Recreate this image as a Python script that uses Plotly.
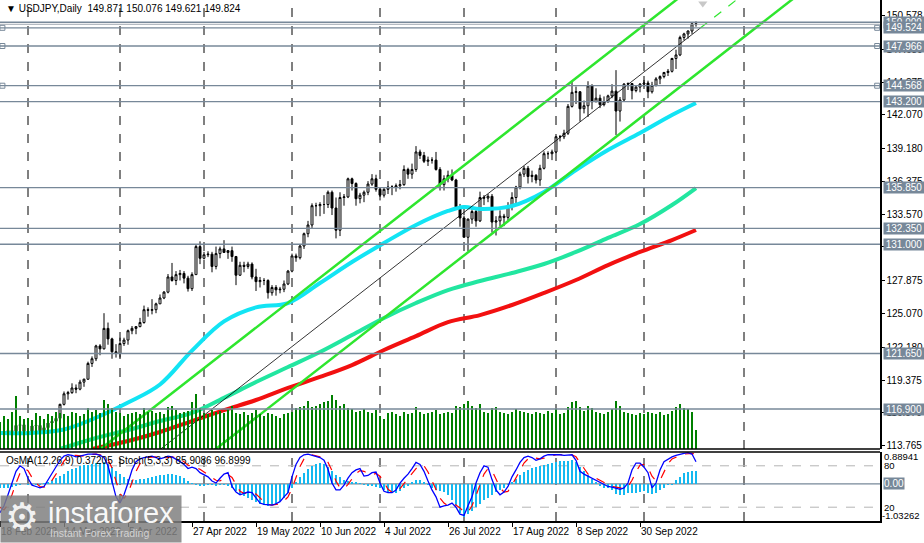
import plotly.graph_objects as go

FONT = "Liberation Sans, Arial, sans-serif"

# ---------------- DATA ----------------
# bar index 0 = 18 Feb 2022 ... 174 = 20 Oct 2022 (daily bars, weekdays)
opens = [114.93,114.99,114.75,115.05,114.98,115.50,115.55,114.98,114.88,115.45,115.50,114.82,115.30,115.70,115.85,116.10,
         117.30,118.20,118.30,118.70,118.60,119.20,119.45,120.80,121.20,122.30,122.05,123.80,122.90,121.80,121.65,122.50,
         122.80,123.60,123.80,123.95,124.30,125.40,125.35,125.40,125.90,126.40,126.90,128.20,127.90,128.40,128.50,128.10,
         127.20,128.40,130.80,129.80,130.10,130.15,129.10,130.20,130.60,130.30,130.45,129.95,128.35,129.20,129.10,129.30,
         128.20,127.80,127.90,127.90,126.85,127.30,127.10,127.15,127.60,128.70,130.00,129.85,130.85,131.90,132.65,134.30,
         134.30,134.40,134.40,135.45,134.10,132.20,135.00,135.05,136.60,136.20,134.90,135.20,135.45,136.15,136.60,135.70,
         135.20,135.70,135.90,135.90,136.00,136.10,137.40,137.00,137.40,138.90,138.60,138.10,138.20,138.20,137.40,136.10,
         136.60,136.90,136.50,134.20,133.25,131.60,133.15,133.80,133.00,135.00,134.95,135.10,132.90,133.00,133.40,133.30,
         134.20,135.00,135.90,137.00,137.50,136.80,136.90,136.50,137.50,138.75,138.75,138.90,140.20,140.20,140.50,142.80,
         144.00,144.05,142.60,142.85,144.55,143.20,143.50,142.95,143.20,143.70,144.10,142.40,143.35,144.70,144.75,144.15,
         144.45,144.70,144.80,144.05,144.60,145.15,145.35,145.70,145.80,146.90,147.20,148.70,149.00,149.25,149.871]
highs = [115.20,115.10,115.25,115.25,115.70,115.75,115.60,115.20,115.55,115.80,115.50,115.40,115.80,116.20,116.30,117.35,
         118.40,118.45,119.10,119.00,119.40,119.50,120.95,121.40,122.40,122.45,125.10,124.30,123.00,122.45,123.00,123.00,
         123.70,124.00,124.00,124.70,125.75,125.60,126.30,126.00,126.70,127.00,128.45,129.40,128.70,128.80,128.70,128.30,
         128.60,130.95,131.25,130.35,130.40,130.35,130.80,130.80,131.35,130.50,130.80,130.00,129.50,129.50,129.50,129.45,
         128.90,128.20,128.10,128.00,127.50,127.50,127.35,127.90,128.80,130.20,130.20,130.95,132.00,133.00,134.50,134.55,
         134.60,135.20,135.60,135.60,135.00,135.45,135.30,136.70,136.70,136.30,135.40,135.60,136.40,137.00,136.95,135.80,
         135.80,136.40,136.05,136.20,136.50,137.75,137.55,137.90,139.40,139.10,138.90,138.50,138.45,138.90,137.60,136.90,
         137.30,137.40,136.60,134.45,133.45,133.20,134.00,134.00,135.50,135.20,135.30,135.30,133.40,133.90,133.60,134.60,
         135.45,136.00,137.20,137.70,137.70,137.30,137.00,137.80,138.95,138.95,139.10,140.25,140.35,140.80,143.00,144.99,
         144.50,144.10,143.30,144.95,144.70,144.35,143.80,143.65,143.80,144.70,145.90,143.60,144.80,144.85,144.80,144.60,
         144.80,145.40,145.00,144.90,145.30,145.45,145.75,146.00,146.95,147.65,148.85,149.10,149.30,149.95,150.076]
lows = [114.75,114.70,114.55,114.90,114.40,115.30,114.95,114.70,114.80,115.30,114.85,114.65,115.10,115.65,115.75,116.00,
        117.20,117.70,118.20,118.25,118.50,118.80,119.40,120.50,121.00,121.50,122.00,122.40,121.20,121.30,121.30,122.30,
        122.40,123.30,123.30,123.90,124.20,124.80,125.00,125.10,125.90,126.30,126.80,127.80,127.50,127.90,127.65,126.95,
        127.00,128.40,129.30,129.70,129.90,128.60,128.85,129.80,130.30,129.75,129.50,127.50,128.30,128.60,128.90,128.00,
        127.00,127.30,127.50,126.35,126.60,126.60,126.80,126.90,127.50,128.60,129.50,129.70,130.60,131.60,132.40,133.40,
        133.40,133.60,134.10,133.50,131.50,131.70,134.30,134.95,135.60,134.30,134.50,134.60,135.20,136.00,135.50,134.75,
        135.00,135.30,135.20,135.50,135.70,136.00,136.60,136.60,137.20,138.30,137.95,137.70,137.90,137.30,135.60,135.60,
        136.30,136.40,133.95,132.50,131.60,130.40,132.75,132.50,132.90,134.35,134.60,132.00,131.75,132.55,132.55,133.05,
        133.90,134.50,135.70,136.75,136.20,136.30,136.20,136.00,137.40,138.30,138.20,138.80,139.80,140.00,140.35,142.70,
        143.00,141.50,142.20,141.90,142.55,143.15,142.65,142.80,143.10,143.50,140.35,141.50,143.20,144.20,143.40,144.00,
        144.00,144.50,143.50,143.90,144.50,144.70,145.20,145.40,145.70,146.00,147.10,148.45,148.60,149.00,149.621]
closes = [114.99,114.75,115.05,114.98,115.50,115.55,114.98,114.88,115.45,115.50,114.82,115.30,115.70,115.85,116.10,117.30,
          118.20,118.30,118.70,118.60,119.20,119.45,120.80,121.20,122.30,122.05,123.80,122.90,121.80,121.65,122.50,122.80,
          123.60,123.80,123.95,124.30,125.40,125.35,125.40,125.90,126.40,126.90,128.20,127.90,128.40,128.50,128.10,127.20,
          128.40,130.80,129.80,130.10,130.15,129.10,130.20,130.60,130.30,130.45,129.95,128.35,129.20,129.10,129.30,128.20,
          127.80,127.90,127.90,126.85,127.30,127.10,127.15,127.60,128.70,130.00,129.85,130.85,131.90,132.65,134.30,134.30,
          134.40,134.40,135.45,134.10,132.20,135.00,135.05,136.60,136.20,134.90,135.20,135.45,136.15,136.60,135.70,135.20,
          135.70,135.90,135.90,136.00,136.10,137.40,137.00,137.40,138.90,138.60,138.10,138.20,138.20,137.40,136.10,136.60,
          136.90,136.50,134.20,133.25,131.60,133.15,133.80,133.00,135.00,134.95,135.10,132.90,133.00,133.40,133.30,134.20,
          135.00,135.90,137.00,137.50,136.80,136.90,136.50,137.50,138.75,138.75,138.90,140.20,140.20,140.50,142.80,144.00,
          144.05,142.60,142.85,144.55,143.20,143.50,142.95,143.20,143.70,144.10,142.40,143.35,144.70,144.75,144.15,144.45,
          144.70,144.80,144.05,144.60,145.15,145.35,145.70,145.80,146.90,147.20,148.70,149.00,149.25,149.87,149.824]
volumes = [45,55,50,62,88,55,50,52,48,60,55,50,58,55,62,60,58,55,62,60,55,58,68,62,65,60,82,75,68,62,60,55,
           58,60,62,58,68,62,64,60,62,58,70,72,65,60,62,64,78,92,68,60,58,65,62,64,60,66,72,60,58,62,56,60,
           65,58,55,60,58,55,52,58,60,62,68,70,72,80,70,72,75,78,80,90,82,72,75,68,66,62,64,66,62,60,65,55,
           50,60,62,58,55,62,58,60,70,62,58,60,62,65,58,60,62,60,72,70,75,80,72,68,75,62,60,68,70,62,60,58,
           62,66,64,62,60,58,62,60,58,64,60,66,58,60,70,78,80,70,64,72,68,62,60,58,62,66,80,72,62,60,58,56,
           60,58,62,60,58,62,56,58,64,70,75,68,66,62,32]

# moving averages (bar index, price)
ma_fast_idx = [0,8,16,24,32,40,48,56,64,72,80,88,96,104,112,116,120,128,136,144,152,160,168,174]
ma_fast = [114.85,114.85,115.15,116.15,117.45,119.00,121.90,124.40,125.60,125.97,127.68,129.48,131.11,132.65,
           133.85,134.19,134.02,134.27,135.47,137.35,139.06,140.52,142.06,143.09]
ma_mid_idx = [15,24,32,40,48,56,64,72,80,88,96,104,112,120,128,136,144,152,160,168,174]
ma_mid = [113.48,114.42,115.10,115.87,116.56,117.85,119.21,120.49,121.78,123.23,124.69,125.97,127.08,127.85,
          128.54,129.31,130.34,131.54,132.73,134.36,135.81]
ma_slow_idx = [23,32,40,48,56,64,72,80,88,96,104,112,120,128,136,144,152,160,168,174]
ma_slow = [113.48,114.16,114.93,115.87,116.80,117.67,118.70,119.64,120.66,121.95,123.14,124.34,124.94,125.80,
           126.83,127.94,129.22,130.34,131.36,132.22]

# price channel anchors (bar index, price)
chan_idx = [0, 220]
chan_upper = [106.77, 165.51]
chan_lower = [99.07, 157.81]
trend_idx = [40, 175]
trend_vals = [113.43, 149.48]
trend_ext_idx = [175, 190]
trend_ext_vals = [149.48, 153.49]

levels = [150.000, 149.524, 147.966, 144.568, 143.200, 135.850, 132.350, 131.000, 121.650, 116.900]
bid_price = 149.824
anchored_levels = [149.524, 147.966, 144.568]

price_ticks = [150.578, 147.680, 144.875, 142.070, 139.180, 136.375, 133.570, 130.765, 127.875,
               125.070, 122.180, 119.375, 116.570, 113.765]
month_start_idx = [7, 30, 51, 73, 95, 116, 139, 161, 186]
date_tick_idx = [0, 16, 32, 48, 64, 80, 96, 112, 128, 144, 160]
date_tick_text = ["18 Feb 2022", "14 Mar 2022", "5 Apr 2022", "27 Apr 2022", "19 May 2022", "10 Jun 2022",
                  "4 Jul 2022", "26 Jul 2022", "17 Aug 2022", "8 Sep 2022", "30 Sep 2022"]

osma = [-0.10,-0.11,-0.10,-0.08,-0.05,-0.02,0.0,-0.02,-0.04,-0.04,-0.03,0.02,0.06,0.10,0.16,0.22,
        0.29,0.35,0.41,0.45,0.49,0.52,0.54,0.56,0.58,0.59,0.60,0.56,0.48,0.37,0.27,0.19,
        0.14,0.12,0.12,0.13,0.15,0.17,0.19,0.21,0.24,0.26,0.27,0.28,0.26,0.22,0.16,0.08,
        0.02,-0.04,-0.06,-0.05,-0.04,-0.04,-0.05,-0.04,-0.03,-0.06,-0.12,-0.20,-0.27,-0.33,-0.38,-0.45,
        -0.50,-0.55,-0.60,-0.61,-0.60,-0.55,-0.47,-0.38,-0.25,-0.10,0.05,0.18,0.30,0.42,0.50,0.56,
        0.59,0.55,0.47,0.36,0.25,0.18,0.12,0.08,0.06,0.05,0.03,-0.02,-0.05,-0.06,-0.08,-0.12,
        -0.18,-0.23,-0.25,-0.24,-0.20,-0.12,-0.05,0.05,0.10,0.10,0.06,-0.02,-0.10,-0.18,-0.20,-0.22,
        -0.30,-0.45,-0.60,-0.80,-0.92,-0.85,-0.75,-0.65,-0.55,-0.45,-0.38,-0.30,-0.22,-0.17,-0.10,-0.04,
        0.05,0.15,0.25,0.33,0.40,0.45,0.48,0.50,0.52,0.55,0.59,0.62,0.64,0.63,0.65,0.66,
        0.60,0.46,0.35,0.25,0.15,0.05,-0.05,-0.10,-0.12,-0.16,-0.28,-0.32,-0.30,-0.26,-0.25,-0.24,
        -0.22,-0.20,-0.24,-0.28,-0.25,-0.18,-0.10,-0.04,-0.03,0.11,0.20,0.30,0.33,0.35,0.372]
stoch_main = [12,22,38,55,72,80,76,62,52,50,48,50,59,68,78,88,94,96,95,93,94,96,97,97,97,95,92,80,58,35,26,38,
              55,74,86,90,92,93,94,92,90,92,94,93,90,86,82,76,78,76,70,67,64,58,55,62,68,70,50,42,38,40,
              42,41,33,26,24,23,23,25,28,35,41,64,82,92,96,97,95,93,92,88,75,55,45,45,52,62,70,74,
              76,65,66,70,71,55,43,41,41,45,55,62,68,76,85,82,72,58,45,35,20,22,23,26,20,10,8,22,
              35,55,70,80,78,60,45,38,42,50,64,74,85,92,94,92,88,90,94,96,96,97,96,95,96,96,88,72,
              68,65,62,58,55,52,50,49,48,46,48,55,74,84,84,78,70,48,55,74,86,90,93,95,97,98,99,97,85.9086]
stoch_signal = [20,16,24,38,55,69,76,73,63,55,50,49,52,59,68,78,87,93,95,95,94,94,96,97,97,96,95,89,77,58,40,33,
                40,56,72,83,89,92,93,93,92,91,92,93,92,90,86,81,79,77,75,71,67,63,59,58,62,67,63,54,43,40,
                40,41,39,33,28,24,23,24,25,29,35,47,62,79,90,95,96,95,93,91,85,73,58,48,47,53,61,69,
                73,72,69,67,69,65,56,46,42,42,47,54,62,69,76,81,80,71,58,46,33,26,22,24,23,19,13,13,
                22,37,53,68,76,73,61,48,42,43,52,63,74,84,90,93,91,90,91,93,95,96,96,96,96,96,93,85,
                76,68,65,62,58,55,52,50,49,48,47,50,59,71,81,82,77,65,58,59,72,83,90,93,95,97,98,98,96.8999]

# ---------------- FIGURE ----------------
N = len(closes)
idx = list(range(N))
PX_W, PX_H = 924, 543
PLOT_W, PLOT_H = 880, 521
MAIN_BOTTOM = (PLOT_H - 449) / PLOT_H
OSC_TOP = (PLOT_H - 452) / PLOT_H
Y_MIN, Y_MAX = 113.477, 151.903
OSC_MIN, OSC_MAX = -1.03262, 0.88941

fig = go.Figure()

# volumes
fig.add_trace(go.Bar(x=idx, y=volumes, width=0.3, marker_color="#008000", marker_line_width=0,
                     xaxis="x", yaxis="y2", hoverinfo="skip"))

# moving averages
fig.add_trace(go.Scatter(x=ma_slow_idx, y=ma_slow, mode="lines", line=dict(color="#F21010", width=4, shape="spline"),
                         xaxis="x", yaxis="y", hoverinfo="skip"))
fig.add_trace(go.Scatter(x=ma_mid_idx, y=ma_mid, mode="lines", line=dict(color="#22E6A0", width=4, shape="spline"),
                         xaxis="x", yaxis="y", hoverinfo="skip"))
fig.add_trace(go.Scatter(x=ma_fast_idx, y=ma_fast, mode="lines", line=dict(color="#12E4F4", width=4, shape="spline"),
                         xaxis="x", yaxis="y", hoverinfo="skip"))

# channel
for vals in (chan_upper, chan_lower):
    fig.add_trace(go.Scatter(x=chan_idx, y=vals, mode="lines", line=dict(color="#2EE62E", width=2.5),
                             xaxis="x", yaxis="y", hoverinfo="skip"))
fig.add_trace(go.Scatter(x=trend_idx, y=trend_vals, mode="lines", line=dict(color="#000000", width=0.8),
                         xaxis="x", yaxis="y", hoverinfo="skip"))
fig.add_trace(go.Scatter(x=trend_ext_idx, y=trend_ext_vals, mode="lines",
                         line=dict(color="#2EE62E", width=1.2, dash="dash"),
                         xaxis="x", yaxis="y", hoverinfo="skip"))

# candles
fig.add_trace(go.Candlestick(x=idx, open=opens, high=highs, low=lows, close=closes,
                             increasing=dict(line=dict(color="#000000", width=1), fillcolor="#FFFFFF"),
                             decreasing=dict(line=dict(color="#000000", width=1), fillcolor="#000000"),
                             whiskerwidth=0, xaxis="x", yaxis="y", hoverinfo="skip"))

# anchor squares of drawn levels
fig.add_trace(go.Scatter(x=[0.6] * len(anchored_levels) + [219.3] * len(anchored_levels),
                         y=anchored_levels + anchored_levels, mode="markers",
                         marker=dict(symbol="square-open", size=5, color="#778899", line=dict(width=1)),
                         xaxis="x", yaxis="y", hoverinfo="skip"))
# shift marker
fig.add_trace(go.Scatter(x=[175.7], y=[151.6], mode="markers",
                         marker=dict(symbol="triangle-down", size=8, color="#C8C8C8"),
                         xaxis="x", yaxis="y", hoverinfo="skip"))

# oscillator
fig.add_trace(go.Bar(x=idx, y=osma, width=0.72, marker_color="#14B9F0", marker_line_width=0,
                     xaxis="x", yaxis="y3", hoverinfo="skip"))
fig.add_trace(go.Scatter(x=idx, y=stoch_signal, mode="lines", line=dict(color="#FF0000", width=1.2, dash="dash"),
                         xaxis="x", yaxis="y4", hoverinfo="skip"))
fig.add_trace(go.Scatter(x=idx, y=stoch_main, mode="lines", line=dict(color="#0000FF", width=1.3),
                         xaxis="x", yaxis="y4", hoverinfo="skip"))

shapes = []
for m in month_start_idx:
    shapes.append(dict(type="line", xref="x", yref="paper", x0=m, x1=m, y0=0, y1=1,
                       line=dict(color="#000000", width=1, dash="dash"), layer="below"))
for lv in levels:
    shapes.append(dict(type="line", xref="x", yref="y", x0=0, x1=220, y0=lv, y1=lv,
                       line=dict(color="#778899", width=1.3), layer="above"))
shapes.append(dict(type="line", xref="x", yref="y", x0=0, x1=220, y0=bid_price, y1=bid_price,
                   line=dict(color="#A0A8B0", width=1), layer="above"))
# oscillator levels
for lv in (80, 20):
    shapes.append(dict(type="line", xref="x", yref="y4", x0=0, x1=220, y0=lv, y1=lv,
                       line=dict(color="#B4B4B4", width=1, dash="dash"), layer="below"))
shapes.append(dict(type="line", xref="x", yref="y3", x0=0, x1=220, y0=0, y1=0,
                   line=dict(color="#778899", width=1.3), layer="below"))
# panel borders
shapes.append(dict(type="line", xref="paper", yref="paper", x0=0, x1=1, y0=MAIN_BOTTOM, y1=MAIN_BOTTOM,
                   line=dict(color="#000000", width=1.5)))
shapes.append(dict(type="line", xref="paper", yref="paper", x0=0, x1=1, y0=OSC_TOP, y1=OSC_TOP,
                   line=dict(color="#000000", width=1.5)))

annotations = []
# date labels
for i, t in zip(date_tick_idx, date_tick_text):
    annotations.append(dict(x=i, y=0, xref="x", yref="paper", text=t, showarrow=False, xanchor="left",
                            yanchor="top", yshift=-3, xshift=-1, font=dict(family=FONT, size=10, color="#000000")))
# right price boxes
for lv in levels:
    annotations.append(dict(x=1.003, y=lv, xref="paper", yref="y", text=f"{lv:.3f}", showarrow=False,
                            xanchor="left", yanchor="middle", bgcolor="#778899", borderpad=0, width=40, height=11,
                            font=dict(family=FONT, size=10, color="#FFFFFF")))
# oscillator axis labels
OSC_FONT = dict(family=FONT, size=9.5, color="#000000")
annotations.append(dict(x=1.002, y=OSC_MAX, xref="paper", yref="y3", text="0.88941", showarrow=False,
                        xanchor="left", yanchor="top", yshift=3, font=OSC_FONT))
annotations.append(dict(x=1.002, y=80, xref="paper", yref="y4", text="80", showarrow=False,
                        xanchor="left", yanchor="middle", font=OSC_FONT))
annotations.append(dict(x=1.002, y=20, xref="paper", yref="y4", text="20", showarrow=False,
                        xanchor="left", yanchor="middle", font=OSC_FONT))
annotations.append(dict(x=1.0, y=OSC_MIN, xref="paper", yref="y3", text="-1.03262", showarrow=False,
                        xanchor="left", yanchor="bottom", yshift=-2, font=OSC_FONT))
annotations.append(dict(x=1.003, y=0, xref="paper", yref="y3", text="0.00", showarrow=False,
                        xanchor="left", yanchor="middle", bgcolor="#778899", borderpad=0, width=20, height=11,
                        font=dict(family=FONT, size=10, color="#FFFFFF")))
# headers
annotations.append(dict(x=0.004, y=1, xref="paper", yref="paper", text="▼ USDJPY,Daily  149.871 150.076 149.621 149.824",
                        showarrow=False, xanchor="left", yanchor="top", yshift=-1,
                        font=dict(family=FONT, size=10, color="#000000")))
annotations.append(dict(x=0.004, y=OSC_TOP, xref="paper", yref="paper",
                        text="OsMA(12,26,9) 0.37205  Stoch(5,3,3) 85.9086 96.8999",
                        showarrow=False, xanchor="left", yanchor="top", yshift=-1,
                        font=dict(family=FONT, size=10, color="#000000")))
# watermark
annotations.append(dict(x=0, y=-22 / PLOT_H, xref="paper", yref="paper", text=" ", showarrow=False,
                        xanchor="left", yanchor="bottom", width=180, height=46, borderpad=0,
                        bgcolor="rgba(128,128,128,0.85)"))
annotations.append(dict(x=22 / PLOT_W, y=-22 / PLOT_H, xref="paper", yref="paper", text="⚙", showarrow=False,
                        xanchor="center", yanchor="bottom", yshift=2,
                        font=dict(family="DejaVu Sans", size=38, color="rgba(255,255,255,0.9)")))
annotations.append(dict(x=46 / PLOT_W, y=(PLOT_H - 513) / PLOT_H, xref="paper", yref="paper", text="instaforex",
                        showarrow=False, xanchor="left", yanchor="middle",
                        font=dict(family=FONT, size=29, color="rgba(255,255,255,0.95)")))
annotations.append(dict(x=48 / PLOT_W, y=(PLOT_H - 533) / PLOT_H, xref="paper", yref="paper",
                        text="Instant Forex Trading", showarrow=False, xanchor="left", yanchor="middle",
                        font=dict(family=FONT, size=10.5, color="#D2D2D2")))

fig.update_layout(
    width=PX_W, height=PX_H,
    margin=dict(l=0, r=PX_W - PLOT_W, t=0, b=PX_H - PLOT_H, pad=0),
    paper_bgcolor="#FFFFFF", plot_bgcolor="#FFFFFF",
    showlegend=False, barmode="overlay", bargap=0,
    font=dict(family=FONT, size=10, color="#000000"),
    xaxis=dict(domain=[0, 1], range=[0, 220], anchor="y3", showgrid=False, zeroline=False,
               showline=True, linecolor="#000000", linewidth=1.5,
               tickmode="array", tickvals=date_tick_idx, ticks="outside", ticklen=4, tickcolor="#000000",
               showticklabels=False, rangeslider=dict(visible=False), fixedrange=True),
    yaxis=dict(domain=[MAIN_BOTTOM, 1], range=[Y_MIN, Y_MAX], side="right", anchor="x",
               showgrid=False, zeroline=False, showline=True, linecolor="#000000", linewidth=1.5,
               tickmode="array", tickvals=price_ticks, ticktext=[f"{v:.3f}" for v in price_ticks],
               ticks="outside", ticklen=3, tickcolor="#000000",
               tickfont=dict(family=FONT, size=10, color="#000000")),
    yaxis2=dict(overlaying="y", range=[0, 750], visible=False),
    yaxis3=dict(domain=[0, OSC_TOP], range=[OSC_MIN, OSC_MAX], side="right", anchor="x",
                showgrid=False, zeroline=False, showline=True, linecolor="#000000", linewidth=1.5,
                showticklabels=False, ticks=""),
    yaxis4=dict(overlaying="y3", range=[0, 100], visible=False),
    shapes=shapes, annotations=annotations,
)

fig.write_html("out.html", config={"displayModeBar": False, "staticPlot": True},
               post_script="document.body.style.margin='0px';document.body.style.overflow='hidden';")
